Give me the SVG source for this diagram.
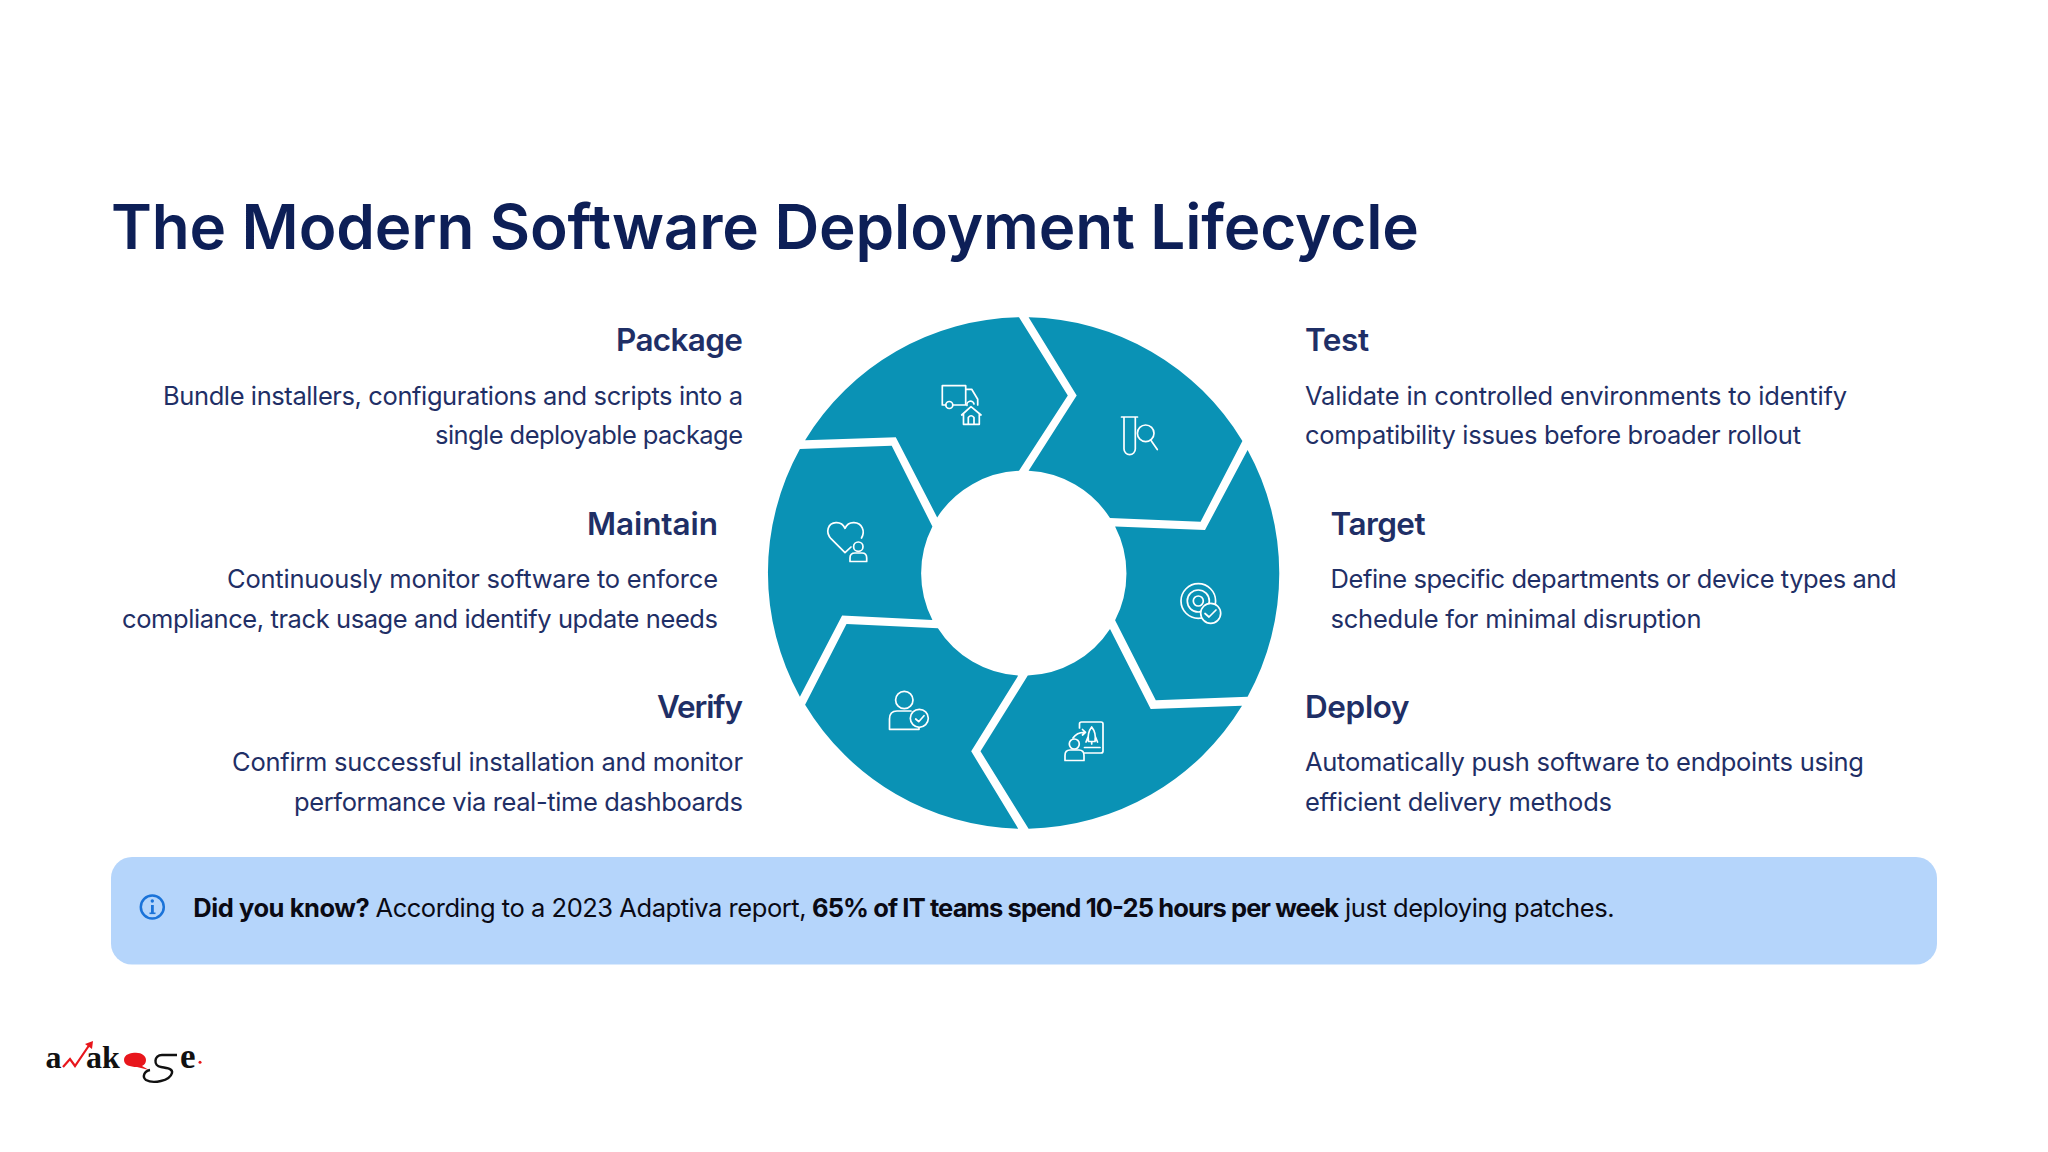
<svg xmlns="http://www.w3.org/2000/svg" width="2048" height="1152" viewBox="0 0 2048 1152">
<style>
text{font-family:"Inter","Liberation Sans",sans-serif}
.title{font-size:62px;font-weight:600;fill:#0d1f57}
.h{font-size:31.5px;font-weight:600;fill:#1f2f66}
.b{font-size:25.5px;font-weight:400;fill:#1f2f66}
.r{text-anchor:end}
.seg{fill:#0a92b5}
.ic{fill:none;stroke:#fff;stroke-width:1.7;stroke-linecap:round;stroke-linejoin:round}
.note{font-size:25.5px;fill:#0a0a14}
.note.k{font-weight:700}
.lg{font-family:"Liberation Serif",serif;font-weight:700;fill:#111}
</style>
<rect width="2048" height="1152" fill="#fff"/>
<text class="title" x="111" y="249" textLength="1308">The Modern Software Deployment Lifecycle</text>

<g id="package">
<path class="seg" d="M805.1 440.2A256 256 0 0 1 1019 317.3L1067.8 395.5L1019 470.8A102.5 102.5 0 0 0 937.2 517.4L895.8 437.3Z"/>
<g class="ic"><path d="M945.8 405H942.3V385.7H965.7V405H953M965.7 389.3H971.7L977.7 399.3V405"/><circle cx="949.3" cy="405" r="3.5"/><path d="M967 405.5A3.5 3.5 0 0 1 974 404"/><path d="M961.7 415L971 406.7L981 415M963.5 413.5V424.3H979.3V413.5M968.3 424V417.5Q971 414 974 417.5V424"/></g>
<text class="h r" x="743" y="351" textLength="127">Package</text>
<text class="b r" x="743" y="405" textLength="580">Bundle installers, configurations and scripts into a</text>
<text class="b r" x="743" y="444" textLength="308">single deployable package</text>
</g>

<g id="test">
<path class="seg" d="M1028.6 317.3A256 256 0 0 1 1242.4 441L1200.6 521.7L1110 518.1A102.5 102.5 0 0 0 1028.6 470.8L1076.7 395.5Z"/>
<g class="ic"><path d="M1121.5 417H1137.5M1124 417V449A5.6 5.6 0 0 0 1135.3 449V417"/><circle cx="1145.7" cy="433.3" r="8.3"/><path d="M1150.7 440L1157.3 449.5"/></g>
<text class="h" x="1305" y="351" textLength="64">Test</text>
<text class="b" x="1305" y="405" textLength="542">Validate in controlled environments to identify</text>
<text class="b" x="1305" y="444" textLength="496">compatibility issues before broader rollout</text>
</g>

<g id="target">
<path class="seg" d="M1247.6 450A256 256 0 0 1 1247.6 696.7L1155.8 700.3L1115.1 620.3A102.5 102.5 0 0 0 1115.1 526.5L1205 530.1Z"/>
<g class="ic"><circle cx="1198.3" cy="601" r="17.3"/><circle cx="1198.3" cy="601" r="11"/><circle cx="1198.3" cy="601" r="5"/><circle cx="1210.7" cy="613.3" r="10" fill="#0a92b5"/><path d="M1205 613.5L1209 617L1216 610"/></g>
<text class="h" x="1330.5" y="535" textLength="95">Target</text>
<text class="b" x="1330.5" y="588" textLength="566">Define specific departments or device types and</text>
<text class="b" x="1330.5" y="628" textLength="371">schedule for minimal disruption</text>
</g>

<g id="deploy">
<path class="seg" d="M1242 705.8A256 256 0 0 1 1028.6 828.7L980.5 751.3L1027.8 675.6A102.5 102.5 0 0 0 1110 629L1150.7 709Z"/>
<g class="ic"><path d="M1079.5 728V724A2 2 0 0 1 1081.5 722H1101A2 2 0 0 1 1103 724V751A2 2 0 0 1 1101 753H1084.5"/><circle cx="1074.3" cy="744" r="5"/><path d="M1065 760.500V755.500Q1065 750 1070 750H1079Q1084 750 1084 755.500V760.500Z"/><path d="M1073 738Q1077 732 1085 732.3M1082.5 729.5L1085.5 732.3L1082.5 735"/><path d="M1091.7 727Q1087 733 1088.5 741.5H1095Q1096.5 733 1091.7 727ZM1088 737L1086 742M1095.5 737L1097.5 742M1091.7 741.5V744"/><path d="M1084.5 747.5H1100"/></g>
<text class="h" x="1305" y="718" textLength="104.5">Deploy</text>
<text class="b" x="1305" y="770.500" textLength="559">Automatically push software to endpoints using</text>
<text class="b" x="1305" y="811" textLength="307">efficient delivery methods</text>
</g>

<g id="verify">
<path class="seg" d="M1018.2 828.7A256 256 0 0 1 805.1 704.7L846.5 624L937.9 628.3A102.5 102.5 0 0 0 1018.2 675.6L971.2 751.3Z"/>
<g class="ic"><circle cx="904.3" cy="700" r="8.7"/><path d="M911 711H897Q889.5 711 889.5 719V729.3H919V727"/><circle cx="919.3" cy="718.3" r="9" fill="#0a92b5"/><path d="M915.7 719L918.7 721.7L924 715.7"/></g>
<text class="h r" x="743" y="718" textLength="86">Verify</text>
<text class="b r" x="743" y="770.500" textLength="511">Confirm successful installation and monitor</text>
<text class="b r" x="743" y="811" textLength="449">performance via real-time dashboards</text>
</g>

<g id="maintain">
<path class="seg" d="M799.9 696.7A256 256 0 0 1 799.9 449L891.7 445.7L932.4 526.5A102.5 102.5 0 0 0 932.4 620L842.1 615.6Z"/>
<g class="ic"><path d="M845 552.7L831 538.7C825 532 828 523 836 522.7C840 522.5 843.5 525 845 528.3C846.5 525 850 522.5 854 522.7C862 523 865.5 531 861.5 538M845 552.7L851 547"/><circle cx="858.3" cy="546.7" r="4.7"/><path d="M850 561.5V558Q850 553 855 553H862Q866.7 553 866.7 558V561.5Z"/></g>
<text class="h r" x="718" y="535" textLength="131">Maintain</text>
<text class="b r" x="718" y="587.500" textLength="491">Continuously monitor software to enforce</text>
<text class="b r" x="718" y="628" textLength="596">compliance, track usage and identify update needs</text>
</g>

<g id="note">
<rect x="111" y="857" width="1826" height="107.5" rx="21" fill="#b5d5fb"/>
<circle cx="152.3" cy="907" r="11.5" fill="none" stroke="#1a73d9" stroke-width="2.5"/>
<rect x="151" y="905" width="2.8" height="8" fill="#1a73d9"/><rect x="149.5" y="912.5" width="6" height="1.6" fill="#1a73d9"/><circle cx="152.3" cy="901" r="1.7" fill="#1a73d9"/>
<text class="note k" x="193.3" y="917" textLength="176.5">Did you know?</text>
<text class="note" x="375.5" y="917" textLength="431">According to a 2023 Adaptiva report,</text>
<text class="note k" x="812" y="917" textLength="527">65% of IT teams spend 10-25 hours per week</text>
<text class="note" x="1345" y="917" textLength="269.5">just deploying patches.</text>
</g>

<g id="logo">
<text class="lg" x="45.5" y="1068" font-size="32">a</text>
<path d="M63 1067L70 1059L75 1066L90 1044" fill="none" stroke="#e8161c" stroke-width="2.2"/><path d="M85 1044L93 1041L92 1049Z" fill="#e8161c"/>
<text class="lg" x="86" y="1068" font-size="32">ak</text>
<path d="M124 1060C124 1054 131 1052.7 136 1052.7C142 1052.7 146 1056 146 1060C146 1063 144.500 1065 142 1066L149 1070L137 1067C130 1067 124 1065 124 1060Z" fill="#e8161c"/>
<path d="M177 1055H162C154 1055 153 1066 161 1067C168 1068 173 1069 172 1073C170 1081 153 1084 146 1080C142 1077 144 1071 150 1070" fill="none" stroke="#111" stroke-width="2.4"/>
<text class="lg" x="180" y="1068" font-size="35">e</text>
<circle cx="200" cy="1062.3" r="1.5" fill="#e8161c"/>
</g>
</svg>
